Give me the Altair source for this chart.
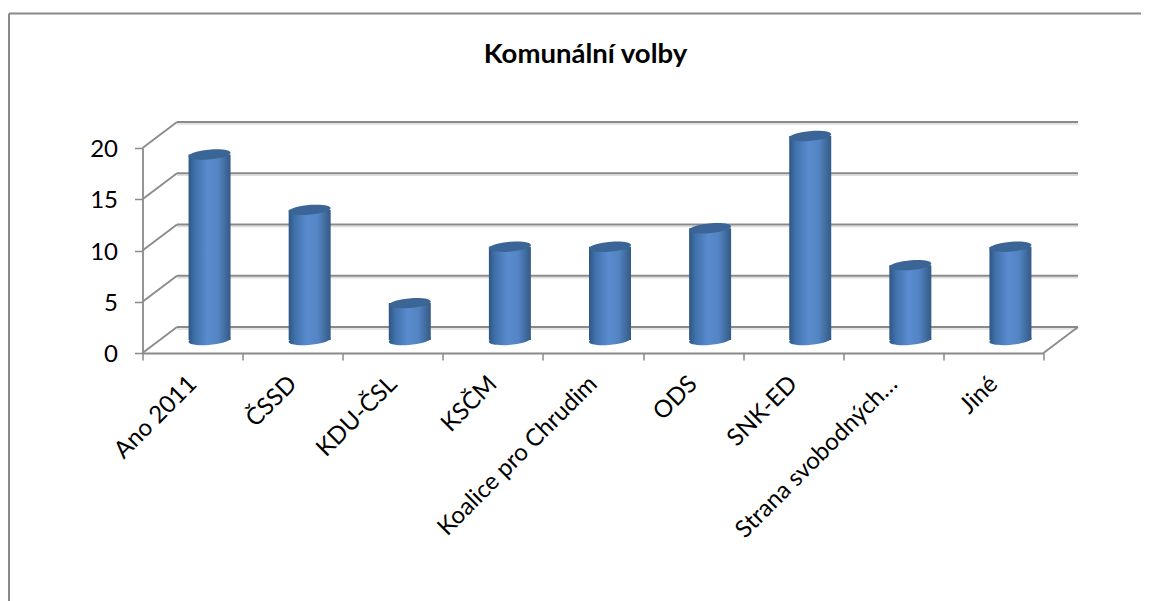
import altair as alt
import pandas as pd

categories = ["Ano 2011", "ČSSD", "KDU-ČSL", "KSČM", "Koalice pro Chrudim", "ODS", "SNK-ED", "Strana svobodných…", "Jiné"]
values = [18.1, 12.7, 3.6, 9.1, 9.1, 10.9, 19.9, 7.3, 9.1]
grid_values = [0, 5, 10, 15, 20]

W, H = 901, 205
DX, DY = 34.5, 26
CX, BASE = 17, 13
FONT = "Lato"
GRAY = "#8a8a8a"

df = pd.DataFrame({"cat": categories, "v": values})
grid = pd.DataFrame({"v": grid_values})

x = alt.X("cat:N", sort=categories, title=None,
          scale=alt.Scale(type="band", paddingInner=0, paddingOuter=0),
          axis=alt.Axis(labelAngle=-45, labelAlign="right", labelBaseline="middle", labelFontSize=24,
                        labelFont=FONT, labelColor="#000000", labelLimit=400, labelPadding=20,
                        tickBand="extent", tickSize=7, tickColor=GRAY, tickWidth=1.5,
                        domainColor=GRAY, domainWidth=1.8, grid=False, labelOverlap=False))
y_axis = alt.Axis(values=grid_values, labelFontSize=24, labelFont=FONT, labelColor="#000000",
                  labelPadding=17, labelOffset=1.5, tickSize=8, tickColor=GRAY, tickWidth=1.5,
                  domainColor=GRAY, domainWidth=1.8, grid=False)
y_scale = alt.Scale(domain=[0, 20], nice=False, zero=True)
y = alt.Y("v:Q", title=None, scale=y_scale, axis=y_axis)
y_zero = alt.Y("z:Q", title=None, scale=y_scale, axis=y_axis)

grad = alt.LinearGradient(gradient="linear", x1=0, x2=1, y1=0, y2=0, stops=[
    alt.GradientStop(offset=0, color="#2e5684"),
    alt.GradientStop(offset=0.15, color="#4071ab"),
    alt.GradientStop(offset=0.45, color="#598ccf"),
    alt.GradientStop(offset=0.7, color="#5384c3"),
    alt.GradientStop(offset=0.9, color="#3e6899"),
    alt.GradientStop(offset=1, color="#345a88"),
])
ELLIPSE = "M-1,0.07 A1,0.23 -5 1 1 1,-0.07 A1,0.23 -5 1 1 -1,0.07 Z"

base_g = alt.Chart(grid)
back_shadow = base_g.mark_rule(stroke="#dddddd", strokeWidth=1.5, yOffset=-DY + 2).encode(
    y=y, x=alt.value(DX), x2=alt.value(W + DX))
back = base_g.mark_rule(stroke=GRAY, strokeWidth=1.8, yOffset=-DY).encode(
    y=y, x=alt.value(DX), x2=alt.value(W + DX))
side = base_g.mark_rule(stroke=GRAY, strokeWidth=1.8, y2Offset=-DY).encode(
    y=y, y2=alt.Y2("v"), x=alt.value(0), x2=alt.value(DX))
floor_end = alt.Chart(pd.DataFrame({"v": [0]})).mark_rule(stroke=GRAY, strokeWidth=1.8, y2Offset=-DY).encode(
    y=y, y2=alt.Y2("v"), x=alt.value(W), x2=alt.value(W + DX))

bar_base = alt.Chart(df)
bottoms = bar_base.transform_calculate(z="0").mark_point(
    shape=ELLIPSE, size=1764, filled=True, fill=grad, opacity=1, xOffset=CX, yOffset=-BASE
).encode(x=x, y=y_zero)
bars = bar_base.mark_bar(width=42, fill=grad, xOffset=CX, x2Offset=CX, yOffset=-BASE, y2Offset=-BASE).encode(
    x=x, y=y)
tops = bar_base.mark_point(
    shape=ELLIPSE, size=1764, filled=True, fill="#3b6596", opacity=1, xOffset=CX, yOffset=-BASE
).encode(x=x, y=y)

frame_left = alt.Chart(pd.DataFrame({"a": [0]})).mark_rule(stroke=GRAY, strokeWidth=2).encode(
    x=alt.value(-133.5), y=alt.value(-134.5), y2=alt.value(500))
frame_top = alt.Chart(pd.DataFrame({"a": [0]})).mark_rule(stroke=GRAY, strokeWidth=2).encode(
    y=alt.value(-134.5), x=alt.value(-133.5), x2=alt.value(1100))

chart = alt.layer(frame_left, frame_top, back_shadow, back, side, floor_end, bottoms, bars, tops).properties(
    width=W, height=H,
    padding={"left": 134.5, "top": 140, "right": 97.5, "bottom": 248},
    autosize=alt.AutoSizeParams(type="none"),
    background="#ffffff",
    title=alt.TitleParams("Komunální volby", anchor="middle", dx=-7.5, offset=-56, fontSize=27.5,
                          font=FONT, fontWeight="bold", color="#000000"),
).configure_view(stroke=None)

chart.save("out.html", embed_options={"renderer": "svg", "actions": False})
